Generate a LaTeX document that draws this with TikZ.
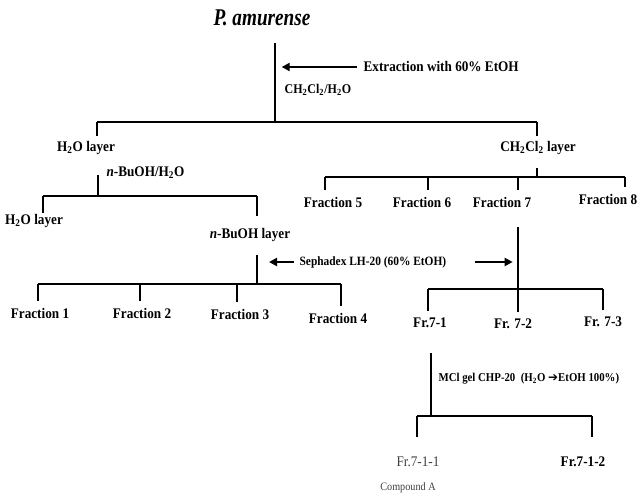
\documentclass[tikz,border=0pt]{standalone}
\usepackage{fontspec}
\setmainfont[FakeStretch=0.9]{Liberation Serif}
\newfontfamily\titlefont[FakeStretch=0.8]{Liberation Serif}
\newfontfamily\arrowfont{DejaVu Sans}
\usetikzlibrary{calc}
\usetikzlibrary{arrows.meta}

\tikzset{
  lab/.style={font=\fontsize{11}{13}\selectfont\bfseries, inner sep=1pt},
  small/.style={font=\fontsize{9.5}{11}\selectfont\bfseries, inner sep=1pt, anchor=west},
  tree/.style={line width=1.6pt},
  drop/.style={tree, shorten >=3pt},
  flow/.style={line width=1.8pt, -{Triangle[length=6pt,width=6pt]}},
  faded/.style={text=black!75},
}

\begin{document}
\begin{tikzpicture}[x=0.75pt, y=-0.75pt]
\useasboundingbox (0,0) rectangle (641,499);

% plant and extraction
\node (title) at (262,18) {\titlefont\fontsize{18}{20}\selectfont\bfseries\itshape P. amurense};
\coordinate (root) at (275,43);
\coordinate (split) at (275,122);
\draw[tree] (root) -- (split);
\node[lab, anchor=west] (extr) at (362,67) {Extraction with 60\% EtOH};
\draw[flow, shorten <=4pt, shorten >=5pt] (extr.west) -- (extr.west -| root);
\node[small, font=\fontsize{10}{12}\selectfont\bfseries] (solv) at (283,90) {CH\textsubscript{2}Cl\textsubscript{2}/H\textsubscript{2}O};

% first partition
\node[lab] (water) at (86,148) {H\textsubscript{2}O layer};
\node[lab] (dcm) at (538,148) {CH\textsubscript{2}Cl\textsubscript{2} layer};
\coordinate (wtop) at (97,122);
\coordinate (dtop) at (537,122);
\draw[tree] (wtop) -- (dtop);
\draw[drop] (wtop) -- (wtop |- water.north);
\draw[drop] (dtop) -- (dtop |- dcm.north);

% butanol partition
\node[small, font=\fontsize{11}{13}\selectfont\bfseries] (bupart) at (105,173) {\textit{n}-BuOH/H\textsubscript{2}O};
\coordinate (bstem) at (98,175);
\coordinate (bsplit) at (98,196);
\draw[tree] (bstem) -- (bsplit);
\node[lab] (water2) at (34,221) {H\textsubscript{2}O layer};
\node[lab] (buoh) at (250,235) {\textit{n}-BuOH layer};
\coordinate (w2top) at (43,196);
\coordinate (butop) at (257,196);
\draw[tree] (w2top) -- (butop);
\draw[tree] (w2top) -- (w2top |- water2.north);
\draw[drop, shorten >=8pt] (butop) -- (butop |- buoh.north);

% Sephadex on the butanol layer
\coordinate (sstem) at (257,255);
\coordinate (ssplit) at (257,284);
\draw[tree] (sstem) -- (ssplit);
\foreach \x/\lx/\ly [count=\i] in {38/40/313, 140/142/313, 237/240/314, 341/338/318} {
  \coordinate (s\i) at (\x,284);
  \node[lab] (frac\i) at (\lx,\ly) {Fraction \i};
  \draw[drop, shorten >=4pt] (s\i) -- (s\i |- frac\i.north);
}
\draw[tree] (s1) -- (s4);

\node[small] (seph) at (298,262) {Sephadex LH-20 (60\% EtOH)};
\draw[flow, shorten <=3pt, shorten >=9pt] (seph.west) -- (seph.west -| ssplit);

% fractions of the CH2Cl2 layer
\coordinate (dstem) at (537,168);
\coordinate (dsplit) at (537,177);
\draw[tree] (dstem) -- (dsplit);
\foreach \x/\lx/\ly [count=\i, evaluate=\i as \k using int(\i+4)] in {325/333/202, 428/422/202, 518/502/202, 625/608/199} {
  \coordinate (d\k) at (\x,177);
  \node[lab] (frac\k) at (\lx,\ly) {Fraction \k};
  \draw[drop, shorten >=4pt] (d\k) -- (d\k |- frac\k.north);
}
\draw[tree] (d5) -- (d8);

% Fraction 7
\coordinate (fstem) at (518,227);
\coordinate (fsplit) at (518,289);
\draw[tree] (fstem) -- (fsplit);
\draw[flow, shorten <=20pt, shorten >=4pt] (seph.east) -- (seph.east -| fsplit);
\foreach \x/\lx/\ly/\t [count=\i] in {428/430/323/Fr.7-1, 518/513/324/Fr. 7-2, 603/603/322/Fr. 7-3} {
  \coordinate (r\i) at (\x,289);
  \node[lab] (sub\i) at (\lx,\ly) {\t};
  \draw[drop, shorten >=4pt] (r\i) -- (r\i |- sub\i.north);
}
\draw[tree] (r1) -- (r3);

% MCI gel on Fr.7-1
\coordinate (mstem) at (431,353);
\coordinate (msplit) at (431,416);
\draw[tree] (mstem) -- (msplit);
\node[small, font=\fontsize{9}{11}\selectfont\bfseries] (mci) at (437,379) {MCl gel CHP-20 \ (H\textsubscript{2}O {\arrowfont ➔}EtOH 100\%)};
\coordinate (m1) at (417,416);
\coordinate (m2) at (592,416);
\draw[tree] (m1) -- (m2);
\node[lab, faded, font=\fontsize{11}{13}\selectfont] (fin1) at (418,462) {Fr.7-1-1};
\node[lab] (fin2) at (583,462) {Fr.7-1-2};
\draw[drop, shorten >=14pt] (m1) -- (m1 |- fin1.north);
\draw[drop, shorten >=14pt] (m2) -- (m2 |- fin2.north);
\node[faded, font=\fontsize{8.5}{10}\selectfont, inner sep=1pt] (cmpd) at (408,488) {Compound A};

\end{tikzpicture}
\end{document}
